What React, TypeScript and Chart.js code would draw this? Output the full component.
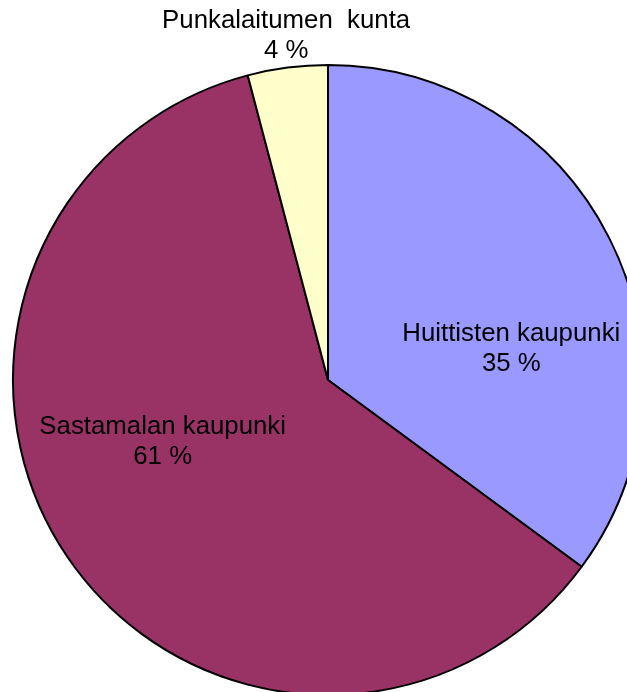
import React, { useEffect, useRef } from "react";
import { Chart, registerables } from "chart.js";

Chart.register(...registerables);

const categories = ["Huittisten kaupunki", "Sastamalan kaupunki", "Punkalaitumen  kunta"];
const shares = [35.1, 60.8, 4.1];
const sliceColors = ["#9999FF", "#993366", "#FFFFCC"];
// label placement: fraction along slice angle, fraction of radius
const labelPlacement = [
  { t: 0.637, k: 0.59 },
  { t: 0.563, k: 0.56 },
  { t: 0.53, k: 1.1 },
];

const labelPlugin = {
  id: "pieLabels",
  afterDatasetsDraw(chart: any) {
    const ctx = chart.ctx;
    const meta = chart.getDatasetMeta(0);
    const data = chart.data.datasets[0].data as number[];
    const total = data.reduce((a, b) => a + b, 0);
    ctx.save();
    ctx.fillStyle = "#000000";
    ctx.font = "25.8px 'Liberation Sans', Arial, sans-serif";
    ctx.textAlign = "center";
    ctx.textBaseline = "middle";
    meta.data.forEach((arc: any, i: number) => {
      const p = arc.getProps(["x", "y", "startAngle", "endAngle", "outerRadius"], true);
      const pl = labelPlacement[i];
      const a = p.startAngle + (p.endAngle - p.startAngle) * pl.t;
      const r = p.outerRadius * pl.k;
      const cx = p.x + Math.cos(a) * r;
      const cy = p.y + Math.sin(a) * r;
      const pct = Math.round((data[i] / total) * 100);
      ctx.fillText(chart.data.labels[i], cx, cy - 15);
      ctx.fillText(pct + " %", cx, cy + 15);
    });
    ctx.restore();
  },
};

export default function App() {
  const ref = useRef<HTMLCanvasElement>(null);
  useEffect(() => {
    if (!ref.current) return;
    const chart = new Chart(ref.current, {
      type: "pie",
      data: {
        labels: categories,
        datasets: [
          {
            data: shares,
            backgroundColor: sliceColors,
            borderColor: "#000000",
            borderWidth: 2,
            clip: false as any,
          },
        ],
      },
      options: {
        responsive: false,
        animation: false,
        radius: 315,
        layout: { padding: { left: 29, top: 68, right: 0, bottom: 0 } },
        plugins: {
          legend: { display: false },
          tooltip: { enabled: false },
        },
      } as any,
      plugins: [labelPlugin],
    });
    return () => chart.destroy();
  }, []);
  return (
    <div style={{ position: "fixed", left: 0, top: 0, width: 627, height: 692, overflow: "hidden", background: "#ffffff" }}>
      <canvas ref={ref} width={627} height={692} style={{ display: "block" }} />
    </div>
  );
}
